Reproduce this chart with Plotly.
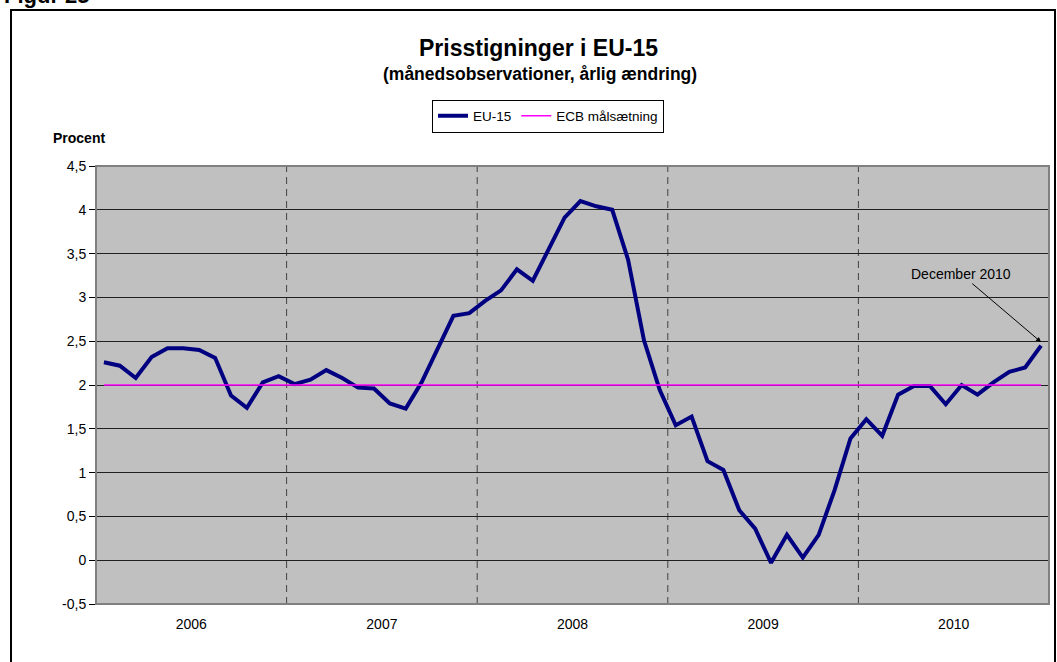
import plotly.graph_objects as go

# ---- data ----
years = ["2006", "2007", "2008", "2009", "2010"]
months_per_year = 12
eu15 = [
    2.26, 2.22, 2.08, 2.32, 2.42, 2.42, 2.40, 2.31, 1.88, 1.74, 2.03, 2.10,   # 2006
    2.01, 2.06, 2.17, 2.08, 1.97, 1.96, 1.79, 1.73, 2.03, 2.40, 2.79, 2.82,   # 2007
    2.96, 3.08, 3.32, 3.19, 3.56, 3.91, 4.10, 4.04, 4.00, 3.43, 2.51, 1.94,   # 2008
    1.54, 1.64, 1.13, 1.03, 0.57, 0.36, -0.03, 0.29, 0.03, 0.29, 0.80, 1.39,  # 2009
    1.61, 1.42, 1.89, 1.99, 1.99, 1.78, 2.00, 1.89, 2.03, 2.15, 2.20, 2.45,   # 2010
]
ecb_target = 2.0
ecb = [ecb_target] * len(eu15)
ytick_vals = [-0.5, 0, 0.5, 1, 1.5, 2, 2.5, 3, 3.5, 4, 4.5]
ytick_text = ["-0,5", "0", "0,5", "1", "1,5", "2", "2,5", "3", "3,5", "4", "4,5"]

x_idx = list(range(len(eu15)))
year_centers = [i * months_per_year + (months_per_year - 1) / 2 for i in range(len(years))]
year_bounds = [i * months_per_year - 0.5 for i in range(1, len(years))]

FONT = "Arial, Liberation Sans, sans-serif"

# plot-area geometry in pixels (for paper-coordinate conversion)
W, H = 1057, 662
L, R, T, B = 96, 8, 166, 58
PW, PH = W - L - R, H - T - B


def px(xp):
    return (xp - L) / PW


def py(yp):
    return (H - B - yp) / PH


fig = go.Figure()
fig.add_trace(go.Scatter(x=x_idx, y=eu15, mode="lines", name="EU-15",
                         line=dict(color="#000080", width=4)))
fig.add_trace(go.Scatter(x=x_idx, y=ecb, mode="lines", name="ECB målsætning",
                         line=dict(color="#FF00FF", width=1.5)))

shapes = []
for xb in year_bounds:
    shapes.append(dict(type="line", xref="x", yref="paper", x0=xb, x1=xb, y0=0, y1=1,
                       line=dict(color="#404040", width=1, dash="7px,5px"), layer="below"))
# plot frame
shapes.append(dict(type="rect", xref="paper", yref="paper", x0=0, x1=1, y0=0, y1=1,
                   line=dict(color="#808080", width=2), layer="above"))
# outer chart border
shapes.append(dict(type="rect", xref="paper", yref="paper", x0=px(11), x1=px(1055),
                   y0=py(700), y1=py(10), line=dict(color="black", width=2), layer="above"))

annotations = [
    dict(text="<b>Prisstigninger i EU-15</b>", xref="paper", yref="paper",
         x=px(538), y=py(48), xanchor="center", yanchor="middle", showarrow=False,
         font=dict(family=FONT, size=23, color="black")),
    dict(text="<b>(månedsobservationer, årlig ændring)</b>", xref="paper", yref="paper",
         x=px(540), y=py(74), xanchor="center", yanchor="middle", showarrow=False,
         font=dict(family=FONT, size=17.5, color="black")),
    dict(text="<b>Procent</b>", xref="paper", yref="paper",
         x=px(79), y=py(138), xanchor="center", yanchor="middle", showarrow=False,
         font=dict(family=FONT, size=14, color="black")),
    dict(text="<b>Figur 25</b>", xref="paper", yref="paper",
         x=px(2), y=py(-5), xanchor="left", yanchor="middle", showarrow=False,
         font=dict(family=FONT, size=22, color="black")),
    dict(text="December 2010", xref="x", yref="y",
         x=x_idx[-1], y=eu15[-1] + 0.04, ax=-80, ay=-68, axref="pixel", ayref="pixel",
         showarrow=True, arrowhead=2, arrowsize=1, arrowwidth=1, arrowcolor="black",
         font=dict(family=FONT, size=14, color="black")),
]

fig.update_layout(
    width=W, height=H,
    margin=dict(l=L, r=R, t=T, b=B),
    paper_bgcolor="white",
    plot_bgcolor="#C0C0C0",
    font=dict(family=FONT, size=14, color="black"),
    showlegend=True,
    legend=dict(orientation="h", x=px(548), y=py(116), xanchor="center", yanchor="middle",
                bgcolor="white", bordercolor="black", borderwidth=1,
                font=dict(family=FONT, size=13.5, color="black"),
                itemwidth=30, tracegroupgap=0),
    xaxis=dict(range=[-0.5, len(eu15) - 0.5], tickvals=year_centers, ticktext=years,
               ticks="", showgrid=False, zeroline=False, showline=False,
               ticklabelstandoff=10, tickfont=dict(family=FONT, size=14, color="black"),
               fixedrange=True),
    yaxis=dict(range=[-0.5, 4.5], tickvals=ytick_vals, ticktext=ytick_text,
               showgrid=True, gridcolor="#202020", gridwidth=1, zeroline=False,
               showline=True, linecolor="black", linewidth=1,
               ticks="outside", ticklen=6, tickcolor="black", tickwidth=1,
               tickfont=dict(family=FONT, size=14, color="black"), fixedrange=True),
    shapes=shapes,
    annotations=annotations,
)

fig.write_html("out.html", config={"displayModeBar": False},
               post_script="document.body.style.margin='0px';document.body.style.overflow='hidden';")
